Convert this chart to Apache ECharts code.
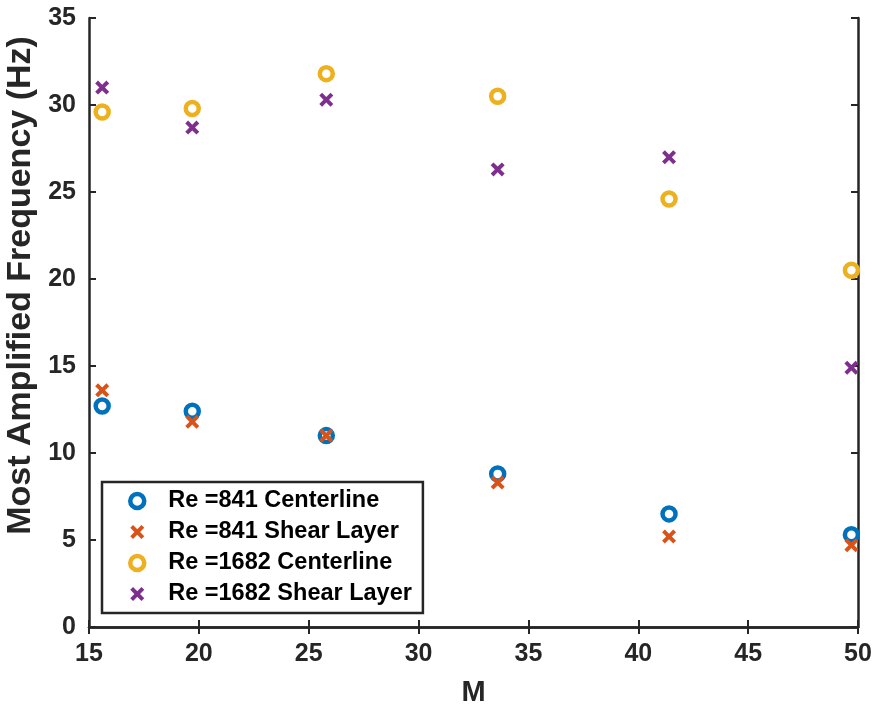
<!DOCTYPE html>
<html><head><meta charset="utf-8">
<script src="https://cdn.jsdelivr.net/npm/echarts@6/dist/echarts.min.js"></script>
<style>html,body{margin:0;padding:0;background:#fff}#c{width:876px;height:705px}</style>
</head><body><div id="c"></div>
<script>
var mValues = [15.6, 19.7, 25.8, 33.6, 41.4, 49.7];
var re841Center = [12.7, 12.4, 11.0, 8.8, 6.5, 5.3];
var re841Shear = [13.6, 11.8, 11.0, 8.3, 5.2, 4.7];
var re1682Center = [29.6, 29.8, 31.8, 30.5, 24.6, 20.5];
var re1682Shear = [31.0, 28.7, 30.3, 26.3, 27.0, 14.9];
var seriesNames = ['Re =841 Centerline', 'Re =841 Shear Layer', 'Re =1682 Centerline', 'Re =1682 Shear Layer'];
var xTicks = [15, 20, 25, 30, 35, 40, 45, 50];
var yTicks = [0, 5, 10, 15, 20, 25, 30, 35];

var colors = ['#0072BD', '#D95319', '#EDB120', '#7E2F8E'];
var xPath = 'path://M0,2L2,0L5,3L8,0L10,2L7,5L10,8L8,10L5,7L2,10L0,8L3,5Z';
function pairs(ys) { return mValues.map(function (x, i) { return [x, ys[i]]; }); }
var FONT = '"Liberation Sans", Arial, Helvetica, sans-serif';
var axisColor = '#262626';

function circleSeries(name, ys, c) {
  return { name: name, type: 'scatter', data: pairs(ys), symbol: 'circle', symbolSize: 13,
    itemStyle: { color: 'rgba(255,255,255,0)', borderColor: c, borderWidth: 4.5, opacity: 1 }, z: 3,
    emphasis: { disabled: true } };
}
function crossSeries(name, ys, c) {
  return { name: name, type: 'scatter', data: pairs(ys), symbol: xPath, symbolSize: 14,
    itemStyle: { color: c, borderWidth: 0, opacity: 1 }, z: 4,
    emphasis: { disabled: true } };
}

var common = {
  axisLine: { show: true, lineStyle: { color: axisColor, width: 2.5 } },
  axisTick: { show: true, inside: true, length: 7, lineStyle: { color: axisColor, width: 2 } },
  splitLine: { show: false }
};

var legendData = seriesNames.map(function (n, i) {
  var isCircle = (i % 2 === 0);
  return isCircle
    ? { name: n, itemStyle: { color: 'rgba(255,255,255,0)', borderColor: colors[i], borderWidth: 4.5 } }
    : { name: n, itemStyle: { color: colors[i], borderWidth: 0 } };
});

var chart = echarts.init(document.getElementById('c'), null, { renderer: 'canvas' });
chart.setOption({
  animation: false,
  backgroundColor: '#fff',
  grid: { left: 89, top: 18, right: 18, bottom: 78, containLabel: false, outerBoundsMode: 'none' },
  xAxis: [
    Object.assign({ type: 'value', min: xTicks[0], max: xTicks[xTicks.length - 1], interval: 5, position: 'bottom',
      name: 'M', nameLocation: 'middle', nameGap: 51,
      nameTextStyle: { fontFamily: FONT, fontWeight: 'bold', fontSize: 29, color: axisColor },
      axisLabel: { fontFamily: FONT, fontWeight: 'bold', fontSize: 25, color: axisColor, margin: 15 } }, common),
    Object.assign({ type: 'value', min: xTicks[0], max: xTicks[xTicks.length - 1], interval: 5, position: 'top',
      axisLabel: { show: false } }, common)
  ],
  yAxis: [
    Object.assign({ type: 'value', min: yTicks[0], max: yTicks[yTicks.length - 1], interval: 5, position: 'left',
      name: 'Most Amplified Frequency (Hz)', nameLocation: 'middle', nameGap: 44,
      nameTextStyle: { fontFamily: FONT, fontWeight: 'bold', fontSize: 34, color: axisColor, padding: [0, 0, 0, 74] },
      axisLabel: { fontFamily: FONT, fontWeight: 'bold', fontSize: 25, color: axisColor, margin: 13 } }, common),
    Object.assign({ type: 'value', min: yTicks[0], max: yTicks[yTicks.length - 1], interval: 5, position: 'right',
      axisLabel: { show: false } }, common)
  ],
  legend: {
    orient: 'vertical', left: 102, top: 482,
    padding: [7, 11, 7, 26],
    itemWidth: 14, itemHeight: 14, itemGap: 7,
    borderColor: axisColor, borderWidth: 2.5, backgroundColor: '#fff',
    textStyle: { fontFamily: FONT, fontWeight: 'bold', fontSize: 23.5, color: '#000', padding: [0, 0, 0, 19] },
    data: legendData
  },
  series: [
    circleSeries(seriesNames[0], re841Center, colors[0]),
    crossSeries(seriesNames[1], re841Shear, colors[1]),
    circleSeries(seriesNames[2], re1682Center, colors[2]),
    crossSeries(seriesNames[3], re1682Shear, colors[3])
  ]
});
</script></body></html>
